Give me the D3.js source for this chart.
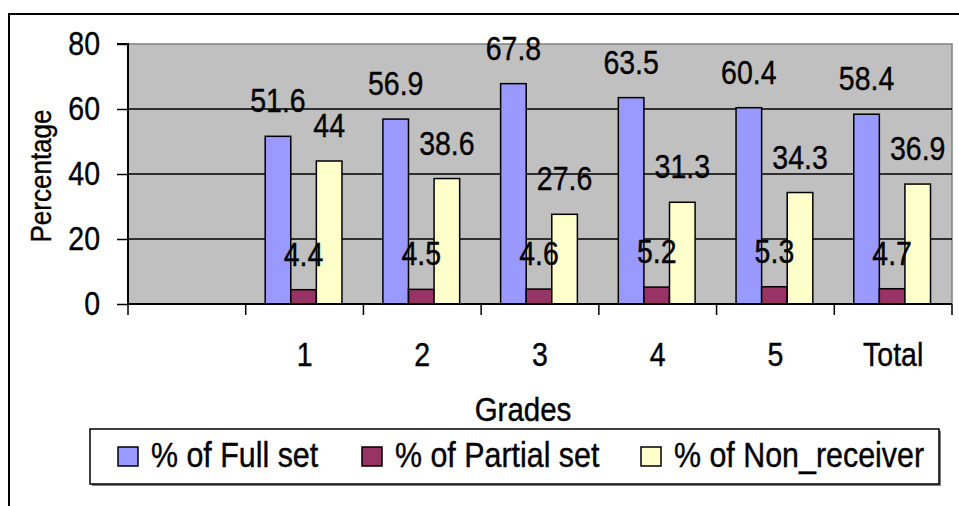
<!DOCTYPE html>
<html>
<head>
<meta charset="utf-8">
<script src="https://cdn.jsdelivr.net/npm/d3@7"></script>
<style>
html,body{margin:0;padding:0;background:#fff;}
svg{display:block;font-family:"Liberation Sans",Arial,sans-serif;}
</style>
</head>
<body>
<svg id="chart" width="959" height="506"></svg>
<script>
// ---- data ----
const categories = ["", "1", "2", "3", "4", "5", "Total"];
const seriesNames = ["% of Full set", "% of Partial set", "% of Non_receiver"];
const fullSet = [null, 51.6, 56.9, 67.8, 63.5, 60.4, 58.4];
const partialSet = [null, 4.4, 4.5, 4.6, 5.2, 5.3, 4.7];
const nonReceiver = [null, 44, 38.6, 27.6, 31.3, 34.3, 36.9];
const yTicks = [0, 20, 40, 60, 80];
const seriesColors = ["#9999FF", "#993366", "#FFFFCC"];

const seriesValues = [fullSet, partialSet, nonReceiver];
const svg = d3.select("#chart");

const plot = {left: 128, right: 952, top: 44, bottom: 304};
const SY = 1.15; // vertical stretch of text

const x0 = d3.scaleBand().domain(categories).range([plot.left, plot.right]).paddingInner(0).paddingOuter(0);
const x1 = d3.scaleBand().domain(seriesNames).range([0, x0.bandwidth()]).paddingInner(0).paddingOuter(0.8);
const y = d3.scaleLinear().domain([0, 80]).range([plot.bottom, plot.top]);

function stretchedText(g, x, yy, txt, size, anchor) {
  return g.append("text")
    .attr("transform", `translate(${x},${yy}) scale(1,${SY})`)
    .attr("text-anchor", anchor || "middle")
    .attr("font-size", size)
    .attr("fill", "#000")
    .attr("stroke", "#000").attr("stroke-width", 0.35)
    .text(txt);
}

// outer frame
svg.append("path").attr("d", "M9,506 L9,14 L959,14").attr("fill", "none").attr("stroke", "#000").attr("stroke-width", 2);

// plot area background
svg.append("rect").attr("x", plot.left).attr("y", plot.top)
  .attr("width", plot.right - plot.left).attr("height", plot.bottom - plot.top)
  .attr("fill", "#C0C0C0");
svg.append("path").attr("d", `M${plot.left},${plot.top} L${plot.right},${plot.top} L${plot.right},${plot.bottom}`)
  .attr("fill", "none").attr("stroke", "#808080").attr("stroke-width", 1.5);

// gridlines
svg.append("g").selectAll("line").data(yTicks.filter(t => t > 0 && t < 80)).join("line")
  .attr("x1", plot.left).attr("x2", plot.right)
  .attr("y1", d => y(d)).attr("y2", d => y(d))
  .attr("stroke", "#000").attr("stroke-width", 1.5);

// bars
const groups = svg.append("g").selectAll("g").data(categories.map((c, i) => ({c, i}))).join("g")
  .attr("transform", d => `translate(${x0(d.c)},0)`);
groups.each(function(d) {
  const g = d3.select(this);
  seriesNames.forEach((s, si) => {
    const v = seriesValues[si][d.i];
    if (v == null) return;
    g.append("rect")
      .attr("x", x1(s) - 1).attr("width", x1.bandwidth())
      .attr("y", y(v)).attr("height", y(0) - y(v))
      .attr("fill", seriesColors[si]).attr("stroke", "#000").attr("stroke-width", 1.5);
  });
});
// labels
groups.each(function(d) {
  const g = d3.select(this);
  seriesNames.forEach((s, si) => {
    const v = seriesValues[si][d.i];
    if (v == null) return;
    stretchedText(g, x1(s) - 1 + x1.bandwidth() / 2, y(v) - 24, String(v), 28.5);
  });
});

// axes
const yAxis = d3.axisLeft(y).tickValues(yTicks).tickSize(11).tickPadding(17).tickFormat(d3.format("d"));
const yg = svg.append("g").attr("transform", `translate(${plot.left},0)`).call(yAxis);
yg.select(".domain").attr("stroke", "#000").attr("stroke-width", 2).attr("d", `M-11,${plot.top}H0V${plot.bottom}`);
yg.selectAll(".tick line").attr("stroke", "#000").attr("stroke-width", 1.5);
yg.selectAll(".tick text").remove();
yTicks.forEach(t => stretchedText(svg, 100, y(t) + 11, String(t), 28.5, "end"));

const xg = svg.append("g").attr("transform", `translate(0,${plot.bottom})`);
xg.append("line").attr("x1", plot.left).attr("x2", plot.right).attr("y1", 0).attr("y2", 0)
  .attr("stroke", "#000").attr("stroke-width", 2);
const boundaries = categories.map(c => x0(c)).concat([plot.right]);
xg.selectAll("line.tk").data(boundaries).join("line").attr("class", "tk")
  .attr("x1", d => d).attr("x2", d => d).attr("y1", 0).attr("y2", 11)
  .attr("stroke", "#000").attr("stroke-width", 1.5);
categories.forEach(c => stretchedText(svg, x0(c) + x0.bandwidth() / 2, 366, c, 28.5));

// axis titles
stretchedText(svg, 523, 421, "Grades", 29.5);
svg.append("text").attr("transform", "translate(51,176) rotate(-90) scale(1,1.1)")
  .attr("text-anchor", "middle").attr("font-size", 26)
  .attr("stroke", "#000").attr("stroke-width", 0.35).text("Percentage");

// legend
svg.append("rect").attr("x", 92).attr("y", 431).attr("width", 849).attr("height", 55)
  .attr("fill", "#808080");
svg.append("rect").attr("x", 90).attr("y", 429).attr("width", 849).attr("height", 55)
  .attr("fill", "#fff").attr("stroke", "#000").attr("stroke-width", 1.5);
const legendX = [118, 362, 641];
seriesNames.forEach((s, i) => {
  svg.append("rect").attr("x", legendX[i]).attr("y", 447).attr("width", 20).attr("height", 19)
    .attr("fill", seriesColors[i]).attr("stroke", "#000").attr("stroke-width", 1.5);
  stretchedText(svg, legendX[i] + 33, 467, s, 30.4, "start");
});
</script>
</body>
</html>
